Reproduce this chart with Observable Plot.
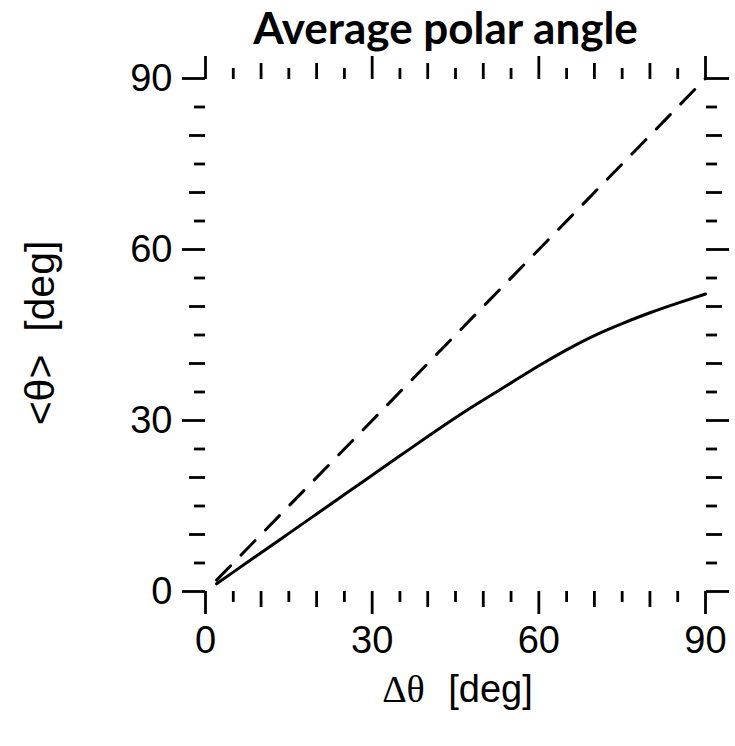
<!DOCTYPE html>
<html>
<head>
<meta charset="utf-8">
<script src="https://cdn.jsdelivr.net/npm/d3@7"></script>
<script src="https://cdn.jsdelivr.net/npm/@observablehq/plot@0.6"></script>
<style>
  html, body { margin: 0; padding: 0; background: #fff; }
</style>
</head>
<body>
<div id="chart"></div>
<script>
// Data
const deltaTheta = [2, 5, 10, 15, 20, 25, 30, 35, 40, 45, 50, 55, 60, 65, 70, 75, 80, 85, 90];
const meanTheta  = [1.35, 3.4, 6.8, 10.2, 13.6, 17.0, 20.4, 23.8, 27.2, 30.5, 33.6, 36.6, 39.6, 42.4, 44.9, 47.0, 48.9, 50.6, 52.2];
const diagonalX  = [2, 90];
const diagonalY  = [2, 90];

const majorTicks  = [0, 30, 60, 90];
const mediumTicks = [10, 20, 40, 50, 70, 80];
const minorTicks  = [5, 15, 25, 35, 45, 55, 65, 75, 85];

const titleText = "Average polar angle";
const xLabelSymbol = "Δθ";
const xLabelUnit = "[deg]";
const yLabelText = "<θ>  [deg]";

const curve = deltaTheta.map((d, i) => ({x: d, y: meanTheta[i]}));
const diag = diagonalX.map((d, i) => ({x: d, y: diagonalY[i]}));

const noText = () => "";
const tw = 2.8;

function ticksFor(axis, anchor) {
  const A = axis === "x" ? Plot.axisX : Plot.axisY;
  return [
    A({anchor, ticks: minorTicks, tickSize: 11, tickFormat: noText, label: null, strokeWidth: tw}),
    A({anchor, ticks: mediumTicks, tickSize: 16, tickFormat: noText, label: null, strokeWidth: tw}),
    A({anchor, ticks: majorTicks, tickSize: 23, tickFormat: noText, label: null, strokeWidth: tw})
  ];
}

const chart = Plot.plot({
  width: 735,
  height: 746,
  marginLeft: 205,
  marginRight: 30,
  marginTop: 78,
  marginBottom: 155,
  style: {fontFamily: "'Liberation Sans', Arial, sans-serif", color: "#000", background: "#fff"},
  x: {domain: [0, 90], axis: null},
  y: {domain: [0, 90], axis: null},
  marks: [
    ...ticksFor("x", "bottom"),
    ...ticksFor("x", "top"),
    ...ticksFor("y", "left"),
    ...ticksFor("y", "right"),
    Plot.axisX({anchor: "bottom", ticks: majorTicks, tickSize: 0, tickPadding: 35, label: null, fontSize: 38, tickFormat: d => String(d)}),
    Plot.axisY({anchor: "left", ticks: majorTicks, tickSize: 0, tickPadding: 33, label: null, fontSize: 38, tickFormat: d => String(d)}),
    Plot.line(diag, {x: "x", y: "y", stroke: "#000", strokeWidth: 3, strokeDasharray: "20,15"}),
    Plot.line(curve, {x: "x", y: "y", stroke: "#000", strokeWidth: 3, curve: "natural"}),
    Plot.text([titleText], {frameAnchor: "top", dx: -10, dy: -49, text: d => d, fontSize: 44, fontWeight: "bold", fontFamily: "Lato, 'Open Sans', sans-serif", lineAnchor: "middle"}),
    Plot.text([xLabelSymbol], {frameAnchor: "bottom", dx: -52, dy: 98, text: d => d, fontSize: 38, fontFamily: "'Liberation Serif', 'Times New Roman', serif", lineAnchor: "middle"}),
    Plot.text([xLabelUnit], {frameAnchor: "bottom", dx: 35, dy: 98, text: d => d, fontSize: 38, lineAnchor: "middle"}),
    Plot.text([yLabelText], {frameAnchor: "left", dx: -165, dy: -2, rotate: -90, textAnchor: "middle", text: d => d, fontSize: 41, lineAnchor: "middle"})
  ]
});

document.getElementById("chart").appendChild(chart);
</script>
</body>
</html>
